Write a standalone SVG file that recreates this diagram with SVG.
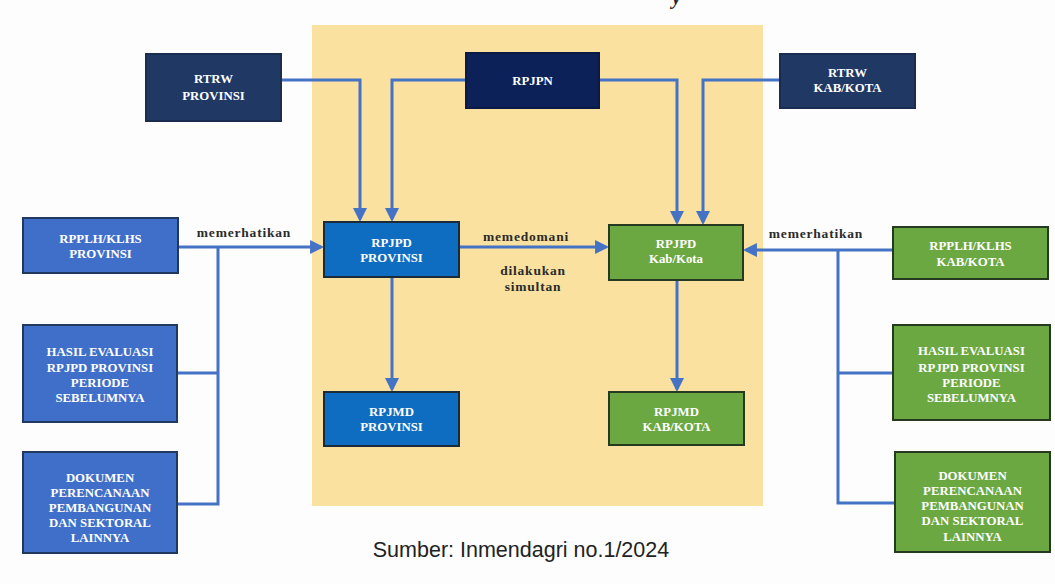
<svg xmlns="http://www.w3.org/2000/svg" width="1055" height="584" viewBox="0 0 1055 584">
<style>
.bx{stroke-width:2}
.navy{fill:#1F3864;stroke:#1a2d50}
.navy2{fill:#0C2158;stroke:#0a1a45}
.pblue{fill:#0E6DC0;stroke:#1c2b3a}
.lblue{fill:#3F6FC8;stroke:#22395f}
.green{fill:#6BA842;stroke:#263a22}
.t{font-family:"Liberation Serif","DejaVu Serif",serif;font-weight:bold;font-size:12.8px;fill:#ffffff;text-anchor:middle}
.lab{font-family:"Liberation Serif","DejaVu Serif",serif;font-weight:bold;font-size:13.5px;fill:#2b2b2b;text-anchor:middle;letter-spacing:0.8px}
.c{fill:none;stroke:#4472C4;stroke-width:3}
</style>
<defs>
<marker id="ah" viewBox="0 0 10 10" refX="7.8" refY="5" markerWidth="14" markerHeight="14" markerUnits="userSpaceOnUse" orient="auto">
<path d="M0,0 L10,5 L0,10 z" fill="#4472C4"/>
</marker>
</defs>
<rect x="0" y="0" width="1055" height="584" fill="#fdfdfd"/>
<text x="672" y="4" font-family="Liberation Serif, serif" font-weight="bold" font-style="italic" font-size="20" fill="#222">y</text>
<rect x="312" y="25" width="451" height="481" fill="#FAE1A0"/>

<g id="connectors">
<path class="c" d="M281,80 H360 V219" marker-end="url(#ah)"/>
<path class="c" d="M466,80 H392 V219" marker-end="url(#ah)"/>
<path class="c" d="M599,80 H677 V222" marker-end="url(#ah)"/>
<path class="c" d="M780,80 H703 V222" marker-end="url(#ah)"/>
<path class="c" d="M459,247 H606" marker-end="url(#ah)"/>
<path class="c" d="M392,277 V389" marker-end="url(#ah)"/>
<path class="c" d="M677,280 V389" marker-end="url(#ah)"/>
<path class="c" d="M178,247 H321" marker-end="url(#ah)"/>
<path class="c" d="M218,247 V504 H177"/>
<path class="c" d="M177,373 H218"/>
<path class="c" d="M893,250 H746" marker-end="url(#ah)"/>
<path class="c" d="M838,250 V503 H895"/>
<path class="c" d="M838,373 H893"/>
</g>

<g id="rtrw-provinsi"><rect class="bx navy" x="146" y="54" width="135" height="67"/>
<text class="t" x="213.5" y="83">RTRW</text><text class="t" x="213.5" y="100">PROVINSI</text></g>
<g id="rpjpn"><rect class="bx navy2" x="466" y="53" width="133" height="55"/>
<text class="t" x="532.5" y="85">RPJPN</text></g>
<g id="rtrw-kabkota"><rect class="bx navy" x="780" y="54" width="135" height="54"/>
<text class="t" x="847.5" y="77">RTRW</text><text class="t" x="847.5" y="92">KAB/KOTA</text></g>

<g id="rpjpd-provinsi"><rect class="bx pblue" x="324" y="222" width="135" height="55"/>
<text class="t" x="391.5" y="247">RPJPD</text><text class="t" x="391.5" y="262">PROVINSI</text></g>
<g id="rpjpd-kabkota"><rect class="bx green" x="609" y="225" width="134" height="55"/>
<text class="t" x="676" y="248">RPJPD</text><text class="t" x="676" y="263">Kab/Kota</text></g>
<g id="rpjmd-provinsi"><rect class="bx pblue" x="324" y="392" width="135" height="54"/>
<text class="t" x="391.5" y="416">RPJMD</text><text class="t" x="391.5" y="431">PROVINSI</text></g>
<g id="rpjmd-kabkota"><rect class="bx green" x="609" y="392" width="135" height="53"/>
<text class="t" x="676.5" y="416">RPJMD</text><text class="t" x="676.5" y="431">KAB/KOTA</text></g>

<g id="rpplh-provinsi"><rect class="bx lblue" x="23" y="218" width="155" height="55"/>
<text class="t" x="100.5" y="243">RPPLH/KLHS</text><text class="t" x="100.5" y="258">PROVINSI</text></g>
<g id="hasil-provinsi"><rect class="bx lblue" x="23" y="325" width="154" height="97"/>
<text class="t" x="100" y="356">HASIL EVALUASI</text><text class="t" x="100" y="372">RPJPD PROVINSI</text><text class="t" x="100" y="387">PERIODE</text><text class="t" x="100" y="402">SEBELUMNYA</text></g>
<g id="dokumen-provinsi"><rect class="bx lblue" x="23" y="452" width="154" height="101"/>
<text class="t" x="100" y="482">DOKUMEN</text><text class="t" x="100" y="497">PERENCANAAN</text><text class="t" x="100" y="512">PEMBANGUNAN</text><text class="t" x="100" y="527">DAN SEKTORAL</text><text class="t" x="100" y="542">LAINNYA</text></g>

<g id="rpplh-kabkota"><rect class="bx green" x="893" y="227" width="155" height="52"/>
<text class="t" x="970.5" y="250">RPPLH/KLHS</text><text class="t" x="970.5" y="266">KAB/KOTA</text></g>
<g id="hasil-kabkota"><rect class="bx green" x="893" y="325" width="157" height="95"/>
<text class="t" x="971.5" y="355">HASIL EVALUASI</text><text class="t" x="971.5" y="372">RPJPD PROVINSI</text><text class="t" x="971.5" y="387">PERIODE</text><text class="t" x="971.5" y="402">SEBELUMNYA</text></g>
<g id="dokumen-kabkota"><rect class="bx green" x="895" y="452" width="155" height="100"/>
<text class="t" x="972.5" y="480">DOKUMEN</text><text class="t" x="972.5" y="495">PERENCANAAN</text><text class="t" x="972.5" y="510">PEMBANGUNAN</text><text class="t" x="972.5" y="525">DAN SEKTORAL</text><text class="t" x="972.5" y="541">LAINNYA</text></g>

<g id="labels">
<text class="lab" x="244" y="237">memerhatikan</text>
<text class="lab" x="526" y="241">memedomani</text>
<text class="lab" x="533" y="275">dilakukan</text>
<text class="lab" x="533" y="291">simultan</text>
<text class="lab" x="816" y="238">memerhatikan</text>
</g>
<text x="521" y="557" font-family="Liberation Sans, Arial, sans-serif" font-size="21.5" fill="#222" text-anchor="middle">Sumber: Inmendagri no.1/2024</text>
</svg>
